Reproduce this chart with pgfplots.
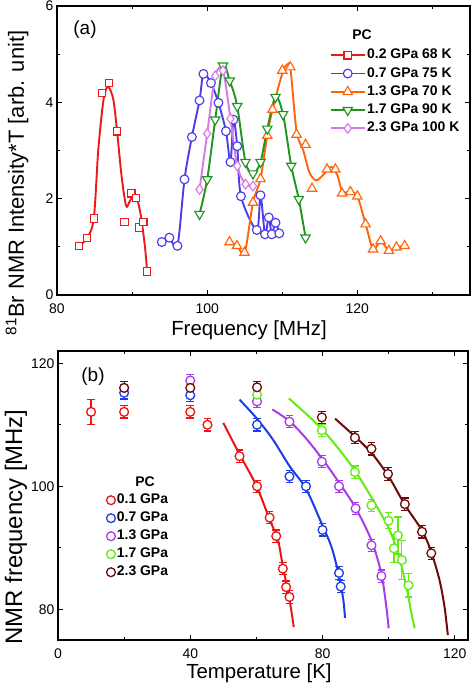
\documentclass[border=0pt]{standalone}
\usepackage{fontspec}
\setmainfont{Liberation Sans}
\usepackage{pgfplots}
\pgfplotsset{compat=1.18}
\definecolor{ra}{RGB}{235,25,25}
\definecolor{ba}{RGB}{75,62,232}
\definecolor{oa}{RGB}{255,100,10}
\definecolor{ga}{RGB}{30,150,30}
\definecolor{va}{RGB}{215,120,235}
\definecolor{rb}{RGB}{235,20,20}
\definecolor{bb}{RGB}{30,60,230}
\definecolor{vb}{RGB}{170,60,230}
\definecolor{gb}{RGB}{100,235,20}
\definecolor{db}{RGB}{110,10,10}
\pgfplotsset{
  common/.style={scale only axis, axis line style={line width=1.3bp},
    tick align=inside, major tick length=5bp, minor tick length=3bp,
    tick style={black, line width=1.1bp},
    /pgf/number format/assume math mode=true,
    tick label style={font=\fontsize{14}{14}\selectfont},
    xticklabel style={yshift=-5bp}},
  lineA/.style={line width=1.9bp, smooth, tension=0.5},
  mkA/.style={only marks, mark options={fill=white, line width=1.15bp, solid}},
  ptB/.style={only marks, mark=*, mark size=4.4bp, line width=1.3bp, mark options={fill=white},
    error bars/y dir=both, error bars/y explicit,
    error bars/error bar style={line width=1.2bp},
    error bars/error mark options={rotate=90, mark size=3.8bp, line width=1.2bp}},
}
\begin{document}
\begin{tikzpicture}
\useasboundingbox (0,0) rectangle (474bp,690bp);
% ---------------- panel (a)
\begin{axis}[common, at={(57bp,395bp)}, anchor=south west, width=413bp, height=289bp,
  xmin=80, xmax=135, ymin=0, ymax=6,
  xtick={80,100,120}, minor xtick={90,110,130},
  ytick={0,2,4,6}, minor ytick={1,3,5},
  legend image code/.code={\draw[mark repeat=2,mark phase=2,#1] plot coordinates {(0bp,0bp) (17bp,0bp) (34bp,0bp)};},
  legend style={at={(0.66,0.858)}, anchor=north west, draw=none, fill=none, inner sep=0pt,
    font=\fontsize{14}{14}\selectfont\bfseries, row sep=2.3bp,
    nodes={inner sep=1.5bp, text height=10bp, text depth=3bp}},
  legend cell align=left]
\addlegendimage{ra, line width=1.9bp, mark=square*, mark size=3.7bp, mark options={fill=white, line width=1.15bp, solid}}
\addlegendentry{0.2 GPa 68 K}
\addlegendimage{ba, line width=1.9bp, mark=*, mark size=4.4bp, mark options={fill=white, line width=1.15bp, solid}}
\addlegendentry{0.7 GPa 75 K}
\addlegendimage{oa, line width=1.9bp, mark=triangle*, mark size=5.4bp, mark options={fill=white, line width=1.15bp, solid}}
\addlegendentry{1.3 GPa 70 K}
\addlegendimage{ga, line width=1.9bp, mark=triangle*, mark size=5.4bp, mark options={fill=white, line width=1.15bp, solid, rotate=180}}
\addlegendentry{1.7 GPa 90 K}
\addlegendimage{va, line width=1.9bp, mark=diamond*, mark size=4.8bp, mark options={fill=white, line width=1.15bp, solid}}
\addlegendentry{2.3 GPa 100 K}
% red 0.2 GPa
\addplot[forget plot, ra, lineA] table {
82.9 1.02
84.0 1.18
84.9 1.59
85.5 3.02
86.2 4.06
86.8 4.32
87.5 4.06
88.0 3.40
88.6 2.47
89.2 1.85
89.7 1.95
90.4 2.09
91.1 1.71
91.7 1.02
92.0 0.49
};
\addplot[forget plot, ra, mkA, mark=square*, mark size=3.7bp] table {
82.9 1.02
84.0 1.18
84.9 1.59
86.0 4.19
86.9 4.40
88.0 3.40
89.0 1.52
89.9 2.11
90.5 2.01
90.9 1.40
91.5 1.52
92.0 0.49
};
% blue 0.7 GPa
\addplot[forget plot, ba, lineA] table {
93.96 1.10
94.97 1.19
96.04 1.02
96.98 2.40
97.96 3.28
98.98 4.04
99.5 4.59
100.5 4.40
101.5 3.99
102.5 3.40
103.1 2.76
103.5 3.64
104.0 3.09
104.5 2.05
106.6 1.35
107.1 2.07
107.7 1.26
108.2 1.61
108.6 1.26
109.1 1.50
109.6 1.28
};
\addplot[forget plot, ba, mkA, mark=*, mark size=4.4bp] table {
93.96 1.10
94.97 1.19
96.04 1.02
96.98 2.40
97.96 3.28
98.98 4.04
99.5 4.59
100.5 4.40
101.5 3.99
102.5 3.40
103.1 2.76
103.5 3.64
104.0 3.09
104.5 2.05
106.6 1.35
107.1 2.07
107.7 1.26
108.2 1.61
108.6 1.26
109.1 1.50
109.6 1.28
};
% orange 1.3 GPa
\addplot[forget plot, oa, lineA] table {
103.0 1.10
104.0 1.02
105.0 0.88
106.1 1.92
107.1 2.41
108.0 3.31
108.7 3.85
110.0 4.60
110.6 4.78
111.1 4.68
111.9 3.40
112.8 3.00
113.6 2.55
114.5 2.38
115.5 2.50
116.5 2.66
117.3 2.50
118.0 2.15
119.0 2.14
120.0 2.05
121.1 1.47
122.1 0.95
123.1 1.12
124.2 0.92
125.2 0.99
126.3 1.02
};
\addplot[forget plot, oa, mkA, mark=triangle*, mark size=5.4bp] table {
102.98 1.10
103.96 1.02
104.97 0.88
106.1 1.92
107.1 2.41
108.0 3.31
108.7 3.85
110.0 4.66
111.07 4.73
111.9 3.33
113.1 3.12
113.96 2.21
115.96 2.61
117.07 2.61
117.96 2.11
119.07 2.14
120.0 2.05
121.1 1.47
122.1 0.95
123.1 1.12
124.2 0.92
125.2 0.99
126.3 1.02
};
% green 1.7 GPa
\addplot[forget plot, ga, lineA] table {
98.98 1.68
100.0 2.40
101.07 3.64
102.1 4.76
103.0 4.45
104.0 3.92
105.1 2.76
106.1 2.52
107.1 2.76
108.0 3.45
109.1 4.11
110.1 3.75
111.2 2.68
112.2 1.99
113.1 1.19
};
\addplot[forget plot, ga, only marks, mark=triangle*, mark size=5.4bp, mark options={fill=white, line width=1.15bp, solid, rotate=180}] table {
98.98 1.68
100.0 2.40
101.07 3.64
102.1 4.76
103.0 4.45
104.0 3.92
105.1 2.76
106.1 2.52
107.1 2.76
108.0 3.45
109.1 4.11
110.1 3.75
111.2 2.68
112.2 1.99
113.1 1.19
};
% violet 2.3 GPa
\addplot[forget plot, va, lineA] table {
98.98 2.19
100.0 3.35
101.07 4.55
102.1 4.66
103.1 3.66
104.0 2.68
105.1 2.30
106.1 2.26
};
\addplot[forget plot, va, mkA, mark=diamond*, mark size=4.8bp] table {
98.98 2.19
100.0 3.35
101.07 4.55
102.1 4.66
103.1 3.66
104.0 2.68
105.1 2.30
106.1 2.26
};
\end{axis}
\node[font=\fontsize{19}{19}\selectfont] at (85bp,660bp) {(a)};
\node[font=\fontsize{14}{14}\selectfont\bfseries] at (362bp,655bp) {PC};
\node[font=\fontsize{20.5}{20.5}\selectfont] at (249bp,360bp) {Frequency [MHz]};
\node[rotate=90, font=\fontsize{22}{22}\selectfont] at (17bp,507bp) {\textsuperscript{81}Br NMR Intensity*T [arb. unit]};
% ---------------- panel (b)
\begin{axis}[common, at={(58bp,50bp)}, anchor=south west, width=410bp, height=289bp,
  xmin=0, xmax=124, ymin=75, ymax=122,
  xtick={0,40,80,120}, minor xtick={20,60,100},
  ytick={80,100,120}, minor ytick={90,110},
  legend image code/.code={\draw[mark repeat=2,mark phase=2,#1] plot coordinates {(0bp,0bp) (8bp,0bp) (24bp,0bp)};},
  legend style={at={(0.118,0.512)}, anchor=north west, draw=none, fill=none, inner sep=0pt,
    font=\fontsize{14}{14}\selectfont\bfseries, row sep=2bp,
    nodes={inner sep=1.5bp, text height=10bp, text depth=3bp}},
  legend cell align=left]
\addlegendimage{only marks, rb, mark=*, mark size=4.4bp, line width=1.3bp, mark options={fill=white}}
\addlegendentry{0.1 GPa}
\addlegendimage{only marks, bb, mark=*, mark size=4.4bp, line width=1.3bp, mark options={fill=white}}
\addlegendentry{0.7 GPa}
\addlegendimage{only marks, vb, mark=*, mark size=4.4bp, line width=1.3bp, mark options={fill=white}}
\addlegendentry{1.3 GPa}
\addlegendimage{only marks, gb, mark=*, mark size=4.4bp, line width=1.3bp, mark options={fill=white}}
\addlegendentry{1.7 GPa}
\addlegendimage{only marks, db, mark=*, mark size=4.4bp, line width=1.3bp, mark options={fill=white}}
\addlegendentry{2.3 GPa}
% fit curves
\addplot[forget plot, rb, line width=2bp, smooth] table {
50 110.3
55 105.1
60 100.1
64 94.6
66.5 91.3
68 87.0
69.5 83.0
70.5 80.0
71.3 77.1
};
\addplot[forget plot, bb, line width=2bp, smooth] table {
54.9 114.1
60 111.1
65 107.6
70 103.3
75 99.6
80 93.6
82.8 90.0
85 85.4
86.3 81.5
86.8 78.6
};
\addplot[forget plot, vb, line width=2bp, smooth] table {
64.8 112.5
70 110.6
75 107.8
80 104.4
85 100.6
90 96.5
94.8 91.2
97.8 85.8
99.3 80.4
100.0 76.9
};
\addplot[forget plot, gb, line width=2bp, smooth] table {
69.8 114.3
75 111.8
80 109.2
85 106.0
90 102.4
95 98.0
100 93.2
103 88.8
105.4 83.6
106.9 79.3
107.9 76.9
};
\addplot[forget plot, db, line width=2bp, smooth] table {
83.8 111.0
90 108.0
95 105.3
100 101.6
105 96.9
110.1 92.8
112.9 89.3
115.4 84.7
116.9 80.4
117.9 75.8
};
% data points
\addplot[forget plot, rb, ptB] table[x=T, y=f, y error=e] {
T f e
10 112.1 2
20 112.1 1
40 112.1 1
45.2 110.0 1
54.9 104.9 1
60.2 100.0 1
64.0 94.9 1
66.0 91.9 1
68.0 86.6 1
69.0 83.6 1
70.0 82.0 1
};
\addplot[forget plot, bb, ptB] table[x=T, y=f, y error=e] {
T f e
20 115.2 1
40 114.8 1
60.2 110.0 1
70.0 101.6 1
75.0 100.0 1
80.0 92.9 1
85.0 85.9 1
85.5 83.7 1
};
\addplot[forget plot, vb, ptB] table[x=T, y=f, y error=e] {
T f e
20 116.0 1
40 117.2 1
60.2 113.8 1
70.0 110.5 1
79.8 104.0 1
85.0 100.0 1
90.0 96.4 1
94.8 90.4 1
97.8 85.4 1
};
\addplot[forget plot, gb, ptB] table[x=T, y=f, y error=e] {
T f e
60.2 114.9 1
79.8 109.1 1
89.8 102.3 1
94.8 96.9 1
100.0 94.4 1.3
102.8 92.0 3
101.6 89.9 2.3
104.0 88.0 3.2
106.0 83.9 1.9
};
\addplot[forget plot, db, ptB] table[x=T, y=f, y error=e] {
T f e
20 116.0 1
40 116.0 1
60.2 116.1 1
79.8 111.2 1
89.8 107.9 1
94.8 106.1 1
99.8 102.0 1
104.9 97.1 1
110.1 92.6 1
112.9 89.1 1
};
\end{axis}
\node[font=\fontsize{19}{19}\selectfont] at (93bp,313bp) {(b)};
\node[font=\fontsize{14}{14}\selectfont\bfseries] at (145bp,208bp) {PC};
\node[font=\fontsize{20.5}{20.5}\selectfont] at (259bp,17bp) {Temperature [K]};
\node[rotate=90, font=\fontsize{24}{24}\selectfont] at (16bp,163bp) {NMR frequency [MHz]};
\end{tikzpicture}
\end{document}
